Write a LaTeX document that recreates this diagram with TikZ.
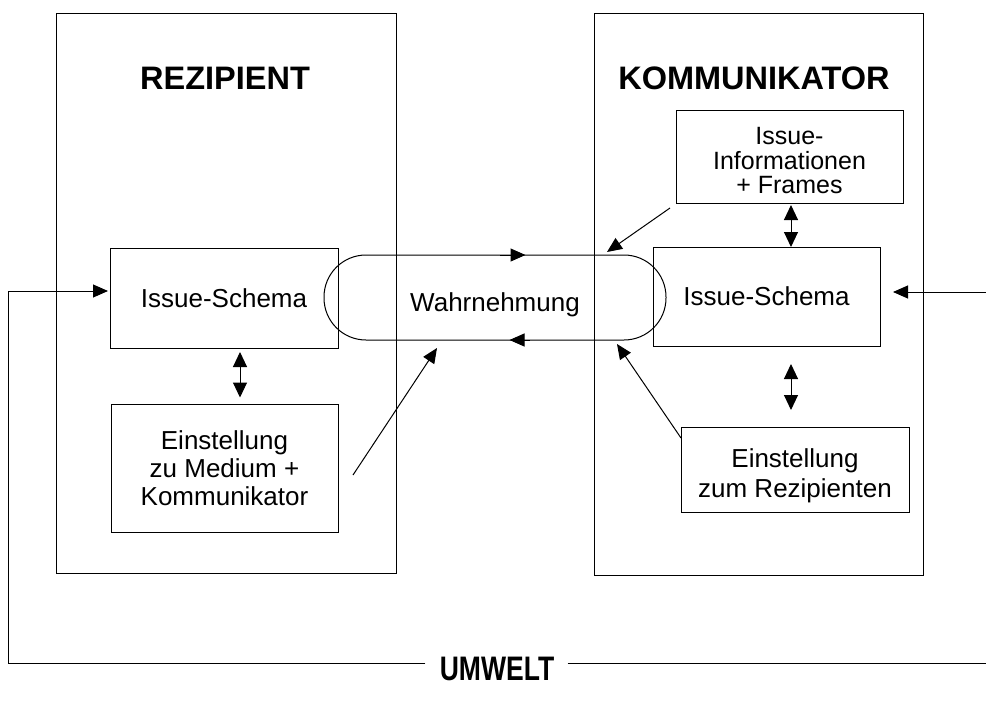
\documentclass[tikz,border=0pt]{standalone}
\usepackage{fontspec}
\setmainfont{Liberation Sans}
\usetikzlibrary{arrows.meta}
\begin{document}
\begin{tikzpicture}[x=1pt,y=-1pt,
  line width=1pt,
  tip/.style={-{Triangle[length=15pt,width=13pt]}},
  dtip/.style={{Triangle[length=15pt,width=14pt]}-{Triangle[length=15pt,width=14pt]}},
  box/.style={draw,align=center,inner sep=0pt,font=\fontsize{26}{28}\selectfont},
  title/.style={font=\fontsize{32.5}{34}\selectfont\bfseries,inner sep=0pt}
]
\useasboundingbox (0,0) rectangle (986,704);

% big boxes
\node[draw,minimum width=340pt,minimum height=560pt,inner sep=0pt] (rez) at (226,293) {};
\node[draw,minimum width=329pt,minimum height=562pt,inner sep=0pt] (kom) at (758.5,294) {};
\node[title] (rezt) at (225,78) {REZIPIENT};
\node[title] (komt) at (754,78) {KOMMUNIKATOR};

% left side
\node[box,minimum width=228pt,minimum height=100pt] (lis) at (224,298) {Issue-Schema};
\node[box,minimum width=227pt,minimum height=128pt] (lein) at (224.5,468) {Einstellung\\zu Medium +\\Kommunikator};

% right side
\node[draw,minimum width=227pt,minimum height=93pt,inner sep=0pt] (info) at (789.5,156.5) {};
\node[align=center,inner sep=0pt,font=\fontsize{25}{24.5}\selectfont] (infot) at (789.5,161) {Issue-\\Informationen\\+ Frames};
\node[box,minimum width=227pt,minimum height=99pt] (ris) at (766.5,296.5) {Issue-Schema};
\node[draw,minimum width=228pt,minimum height=85pt,inner sep=0pt] (rein) at (795,469.5) {};
\node[align=center,inner sep=0pt,font=\fontsize{26}{30}\selectfont] (reint) at (795,476) {Einstellung\\zum Rezipienten};

% Wahrnehmung stadium
\node[draw,minimum width=342pt,minimum height=85pt,rounded corners=42pt,inner sep=0pt] (wahr) at (495,297.5) {};
\node[font=\fontsize{26}{28}\selectfont,inner sep=0pt] (wahrt) at (495,305) {Wahrnehmung};
\coordinate (wt1) at (500,255);
\coordinate (wt2) at (525.5,255);
\coordinate (wb1) at (530,340);
\coordinate (wb2) at (509.5,340);
\draw[tip] (wt1) -- (wt2);
\draw[tip] (wb1) -- (wb2);

% double arrows
\coordinate (d1a) at (240,352);
\coordinate (d1b) at (240,397.5);
\draw[dtip] (d1a) -- (d1b);
\coordinate (d2a) at (791,205);
\coordinate (d2b) at (791,247);
\draw[dtip] (d2a) -- (d2b);
\coordinate (d3a) at (791,364);
\coordinate (d3b) at (791,410);
\draw[dtip] (d3a) -- (d3b);

% diagonal arrows
\coordinate (a1s) at (670,208);
\coordinate (a1e) at (607,252);
\draw[tip] (a1s) -- (a1e);
\coordinate (a2s) at (681,438);
\coordinate (a2e) at (617,344);
\draw[tip] (a2s) -- (a2e);
\coordinate (a3s) at (353,475);
\coordinate (a3e) at (437,348);
\draw[tip] (a3s) -- (a3e);

% environment
\node[font=\fontsize{34}{36}\selectfont\bfseries,inner sep=0pt] (umw) at (497,669) {\scalebox{0.78}[1]{UMWELT}};
\coordinate (eL) at (8,663);
\coordinate (eLt) at (8,291);
\coordinate (eLa) at (108,291);
\coordinate (eR) at (986,663);
\coordinate (eRa) at (986,292);
\coordinate (eRb) at (893,292);
\draw (umw.west |- eL) ++(-14,0) -- (eL) -- (eLt);
\draw[tip] (eLt) -- (eLa);
\draw (umw.east |- eR) ++(13,0) -- (eR);
\draw[tip] (eRa) -- (eRb);
\end{tikzpicture}
\end{document}
